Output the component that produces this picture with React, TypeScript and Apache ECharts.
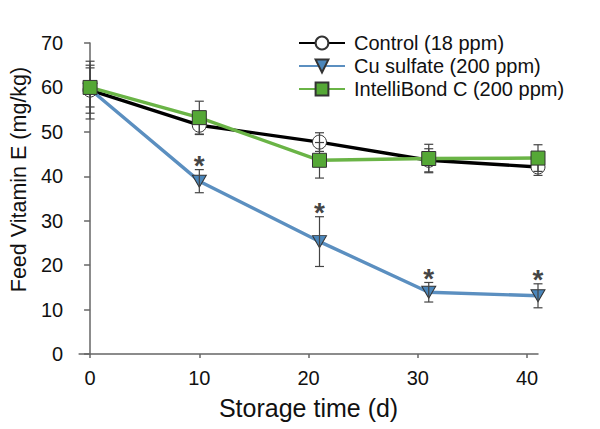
import React, { useEffect, useRef } from "react";
import * as echarts from "echarts";

const days = [0, 10, 21, 31, 41];
const xTicks = [0, 10, 20, 30, 40];
const controlMean = [59.4, 51.5, 47.7, 43.6, 42.1];
const controlErr = [6.5, 2.1, 2.1, 2.6, 1.9];
const cuMean = [59.6, 38.9, 25.3, 13.9, 13.1];
const cuErr = [5.4, 2.6, 5.6, 2.2, 2.7];
const ibMean = [60.0, 53.2, 43.6, 44.0, 44.1];
const ibErr = [4.4, 3.7, 4.0, 3.2, 3.0];
const cuSignificant = [false, true, true, true, true];

const seriesNames = ["Control (18 ppm)", "Cu sulfate (200 ppm)", "IntelliBond C (200 ppm)"];

const FONT = "'Liberation Sans', Arial, Helvetica, sans-serif";

export default function App() {
  const ref = useRef<HTMLDivElement>(null);
  useEffect(() => {
    if (!ref.current) return;
    const chart = echarts.init(ref.current, null, { renderer: "svg" });

    const pairs = (m: number[]) => days.map((d, i) => [d, m[i]]);
    const errData = [
      ...days.map((d, i) => [d, controlMean[i], controlErr[i]]),
      ...days.map((d, i) => [d, cuMean[i], cuErr[i]]),
      ...days.map((d, i) => [d, ibMean[i], ibErr[i]]),
    ];
    const starData = days
      .map((d, i) => (cuSignificant[i] ? [d, cuMean[i] + cuErr[i]] : null))
      .filter((v) => v !== null);

    const option: any = {
      animation: false,
      backgroundColor: "#ffffff",
      grid: { left: 79, right: 62, top: 43, bottom: 75 },
      legend: {
        orient: "vertical",
        left: 293,
        top: 28,
        itemWidth: 46,
        itemHeight: 16,
        itemGap: 3,
        textStyle: { fontFamily: FONT, fontSize: 20, color: "#111", padding: [0, 0, 0, 4] },
        data: seriesNames,
      },
      xAxis: {
        type: "value",
        min: -1,
        max: 41,
        name: "Storage time (d)",
        nameLocation: "middle",
        nameGap: 41,
        nameTextStyle: { fontFamily: FONT, fontSize: 25, color: "#111" },
        splitLine: { show: false },
        axisLine: { show: true, onZero: false, lineStyle: { color: "#666", width: 1.5 } },
        axisTick: { show: true, length: 4, customValues: xTicks, lineStyle: { color: "#666", width: 1.5 } },
        axisLabel: { customValues: xTicks, fontFamily: FONT, fontSize: 20, color: "#111", margin: 14 },
      },
      yAxis: {
        type: "value",
        min: 0,
        max: 70,
        interval: 10,
        name: "Feed Vitamin E (mg/kg)",
        nameLocation: "middle",
        nameGap: 39,
        nameTextStyle: { fontFamily: FONT, fontSize: 21.5, color: "#111", padding: [0, 0, 0, 38] },
        splitLine: { show: false },
        axisLine: { show: true, lineStyle: { color: "#666", width: 1.5 } },
        axisTick: { show: true, length: 6, lineStyle: { color: "#666", width: 1.5 } },
        axisLabel: { fontFamily: FONT, fontSize: 20, color: "#111", margin: 16 },
      },
      series: [
        {
          name: seriesNames[0],
          type: "line",
          z: 2,
          data: pairs(controlMean),
          symbol: "circle",
          symbolSize: 14,
          lineStyle: { color: "#000000", width: 3.4 },
          itemStyle: { color: "#ffffff", borderColor: "#333", borderWidth: 1 },
        },
        {
          name: seriesNames[1],
          type: "line",
          z: 2,
          data: pairs(cuMean),
          symbol: "path://M0,0 L14,0 L7,12 Z",
          symbolSize: [14, 12],
          lineStyle: { color: "#5b8fc0", width: 3.4 },
          itemStyle: { color: "#4a86bb", borderColor: "#333", borderWidth: 1 },
        },
        {
          name: "errbars",
          type: "custom",
          z: 3,
          data: errData,
          renderItem: (params: any, api: any) => {
            const x = api.value(0);
            const m = api.value(1);
            const e = api.value(2);
            const top = api.coord([x, m + e]);
            const bot = api.coord([x, m - e]);
            const hw = 4.5;
            const style = { stroke: "#444", lineWidth: 1.2 };
            return {
              type: "group",
              children: [
                { type: "line", shape: { x1: top[0], y1: top[1], x2: bot[0], y2: bot[1] }, style },
                { type: "line", shape: { x1: top[0] - hw, y1: top[1], x2: top[0] + hw, y2: top[1] }, style },
                { type: "line", shape: { x1: bot[0] - hw, y1: bot[1], x2: bot[0] + hw, y2: bot[1] }, style },
              ],
            };
          },
        },
        {
          name: seriesNames[2],
          type: "line",
          z: 4,
          data: pairs(ibMean),
          symbol: "rect",
          symbolSize: 14,
          lineStyle: { color: "#6ab446", width: 3.4 },
          itemStyle: { color: "#55a836", borderColor: "#333", borderWidth: 1 },
        },
        {
          name: "stars",
          type: "scatter",
          z: 5,
          data: starData,
          symbolSize: 0,
          itemStyle: { color: "transparent" },
          label: {
            show: true,
            position: "top",
            distance: 0,
            offset: [0, 10],
            formatter: "*",
            fontFamily: FONT,
            fontWeight: "bold",
            fontSize: 28,
            color: "#111",
          },
        },
      ],
    };
    chart.setOption(option);
    return () => chart.dispose();
  }, []);
  return (
    <div
      ref={ref}
      style={{ position: "absolute", left: 0, top: 0, width: 600, height: 429, background: "#fff" }}
    />
  );
}
